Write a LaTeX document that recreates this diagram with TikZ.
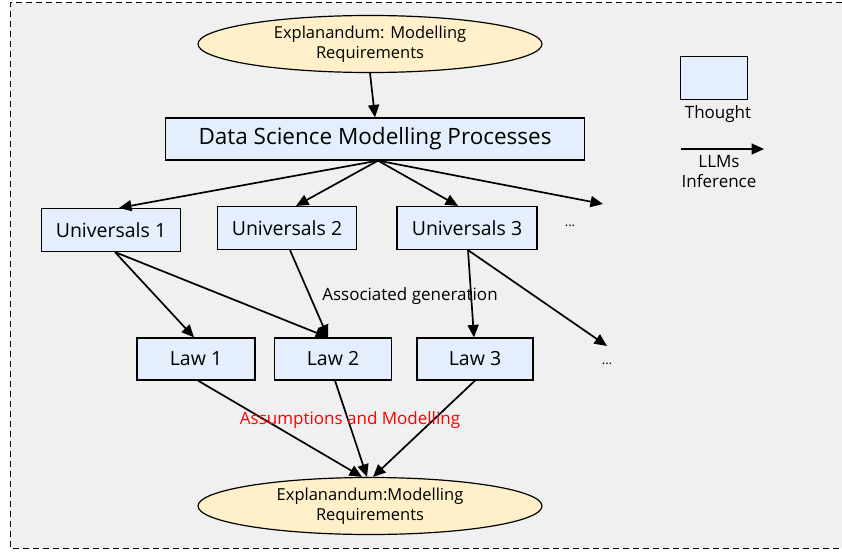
\documentclass[tikz,border=0pt]{standalone}
\usepackage{fontspec}
\setmainfont{Open Sans}
\usetikzlibrary{arrows.meta}
\usetikzlibrary{shapes.geometric}
\definecolor{thoughtfill}{HTML}{E4EEFC}
\definecolor{goalfill}{HTML}{FFF0CA}
\definecolor{canvas}{HTML}{F0F0F0}
\tikzset{
    thought/.style = {
        draw, rectangle, fill=thoughtfill, line width=1.2pt, align=center, inner sep=0pt
    },
    goal/.style = {
        draw, ellipse, fill=goalfill, line width=1.2pt, align=center,
        minimum width=344pt, minimum height=57pt, inner sep=0pt, font=\fontsize{16.5}{19.5}\selectfont
    },
    infer/.style = {
        ->, line width=1.7pt, >={Triangle[width=11pt,length=12.5pt]}
    },
}
\begin{document}
\begin{tikzpicture}[x=1pt, y=-1pt, every node/.style={font=\fontsize{19.5}{23}\selectfont}]
        \useasboundingbox (0,0) rectangle (842,551);
        % Canvas
        \fill[canvas] (10,3) rectangle (842,548);
        \draw[dashed, line width=1pt, dash pattern=on 6pt off 4pt] (842,3) -- (10,3) -- (10,548) -- (842,548);

        % Place the blocks
        \node [goal] (top) at (370,44) {Explanandum: Modelling\\Requirements};
        \node [thought, minimum width=419pt, minimum height=42pt, font=\fontsize{22.5}{27}\selectfont] (dsmp) at (375,139) {Data Science Modelling Processes};
        \node [thought, minimum width=139pt, minimum height=43pt] (u1) at (111,230) {Universals 1};
        \node [thought, minimum width=139pt, minimum height=43pt] (u2) at (287,228) {Universals 2};
        \node [thought, minimum width=140pt, minimum height=43pt] (u3) at (467,228) {Universals 3};
        \node [font=\fontsize{13}{15}\selectfont] (udots) at (570,226) {...};
        \node [thought, minimum width=118pt, minimum height=42pt] (l1) at (196,359) {Law 1};
        \node [thought, minimum width=117pt, minimum height=42pt] (l2) at (333,359) {Law 2};
        \node [thought, minimum width=116pt, minimum height=42pt] (l3) at (475,359) {Law 3};
        \node [font=\fontsize{13}{15}\selectfont] (ldots) at (607,364) {...};
        \node [goal] (bottom) at (370,506) {Explanandum:Modelling\\Requirements};
        \coordinate (umore) at (603,204);
        \coordinate (lmore) at (607,346);

        % Draw connections
        \draw[infer] (top.south) -- (dsmp.north);
        \draw[infer] ([xshift=3pt] dsmp.south) -- ([xshift=8pt] u1.north);
        \draw[infer] ([xshift=3pt] dsmp.south) -- ([xshift=9pt] u2.north);
        \draw[infer] ([xshift=3pt] dsmp.south) -- ([xshift=-9pt] u3.north);
        \draw[infer] ([xshift=3pt] dsmp.south) -- (umore);
        \draw[infer] ([xshift=4pt] u1.south) -- ([xshift=-2pt] l1.north);
        \draw[infer] ([xshift=4pt] u1.south) -- ([xshift=-5pt] l2.north);
        \draw[infer] ([xshift=3pt] u2.south) -- ([xshift=-5pt] l2.north);
        \draw[infer] ([xshift=1pt] u3.south) -- ([xshift=-1pt] l3.north);
        \draw[infer] ([xshift=1pt] u3.south) -- (lmore);
        \draw[infer] ([xshift=2pt] l1.south) -- ([xshift=-8pt] bottom.north);
        \draw[infer] ([xshift=2pt] l2.south) -- ([xshift=-3pt] bottom.north);
        \draw[infer] (l3.south) -- ([xshift=3pt] bottom.north);

        % Labels
        \node [font=\fontsize{17}{20}\selectfont] (assoc) at (410,296) {Associated generation};
        \node [font=\fontsize{17}{20}\selectfont, text=red] (assum) at (350,420) {Assumptions and Modelling};

        % Legend
        \node [thought, minimum width=67pt, minimum height=43pt] (key) at (714,78) {};
        \node [font=\fontsize{17}{20}\selectfont] (keytext) at (718,114) {Thought};
        \coordinate (keyfrom) at (681,149);
        \coordinate (keyto) at (764,149);
        \draw[infer] (keyfrom) -- (keyto);
        \node [font=\fontsize{17}{20}\selectfont, align=center] (keylabel) at (719,172) {LLMs\\Inference};
    \end{tikzpicture}
\end{document}
